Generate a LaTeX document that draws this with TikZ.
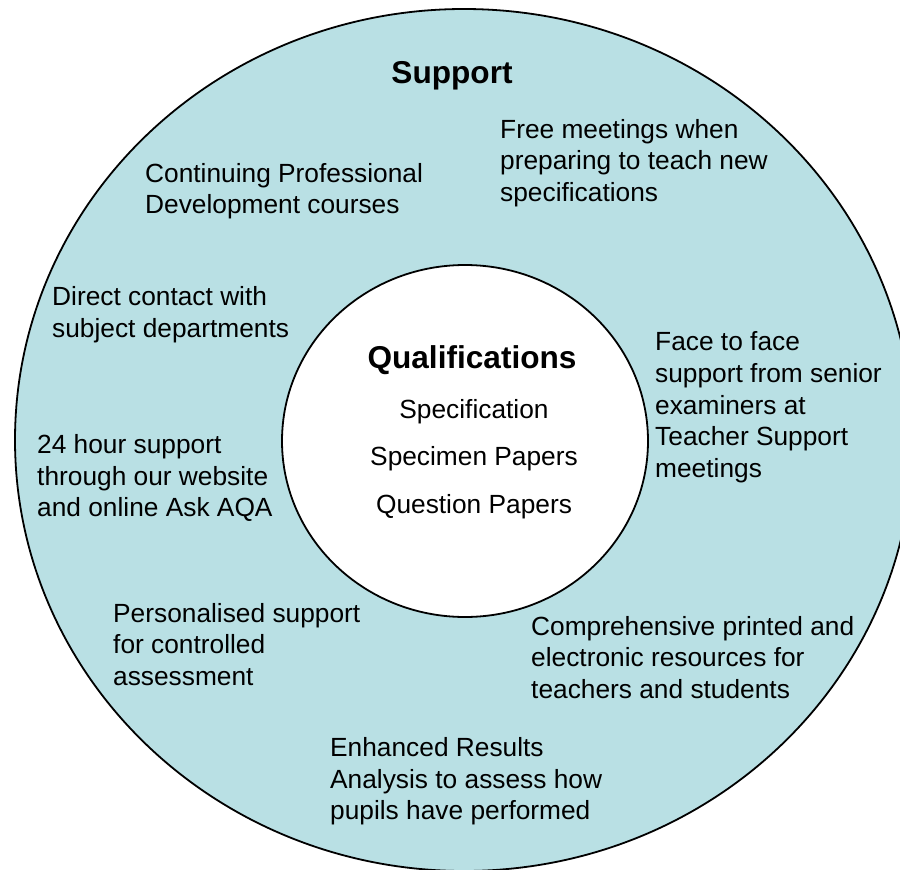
\documentclass[tikz,border=0pt]{standalone}
\usepackage{fontspec}
\setmainfont{Liberation Sans}
\definecolor{ringfill}{RGB}{185,224,228}
\begin{document}
\begin{tikzpicture}[x=1pt,y=-1pt,
  ring/.style={draw=black, line width=1.8pt},
  txt/.style={anchor=north west, inner sep=0pt, align=left, font=\fontsize{26.3}{31.5}\selectfont},
  ttl/.style={inner sep=0pt, font=\fontsize{31.6}{36}\selectfont\bfseries}
]
\useasboundingbox (0,0) rectangle (900,870);
\clip (0,0) rectangle (900,870);
% outer ring
\path[ring, fill=ringfill] (464,440) ellipse [x radius=449, y radius=431];
% inner circle
\path[ring, fill=white] (465,441) ellipse [x radius=183, y radius=176];

\node[ttl, anchor=base] (support) at (452,83) {Support};

\node[txt] (free) at (500,119) {Free meetings when\\preparing to teach new\\specifications};
\node[txt] (cpd) at (145,163) {Continuing Professional\\Development courses};
\node[txt] (direct) at (52,286.5) {Direct contact with\\subject departments};
\node[txt, font=\fontsize{26.3}{31.7}\selectfont] (face) at (655,331.5) {Face to face\\support from senior\\examiners at\\Teacher Support\\meetings};
\node[txt] (hour) at (37,434.5) {24 hour support\\through our website\\and online Ask AQA};
\node[txt] (pers) at (113,603) {Personalised support\\for controlled\\assessment};
\node[txt] (comp) at (531,616) {Comprehensive printed and\\electronic resources for\\teachers and students};
\node[txt] (enh) at (330,737.5) {Enhanced Results\\Analysis to assess how\\pupils have performed};

\node[ttl, anchor=base] (qual) at (472,368) {Qualifications};
\node[anchor=base, inner sep=0pt, align=center, font=\fontsize{26.3}{47.5}\selectfont] (items) at (474,513) {Specification\\Specimen Papers\\Question Papers};
\end{tikzpicture}
\end{document}
